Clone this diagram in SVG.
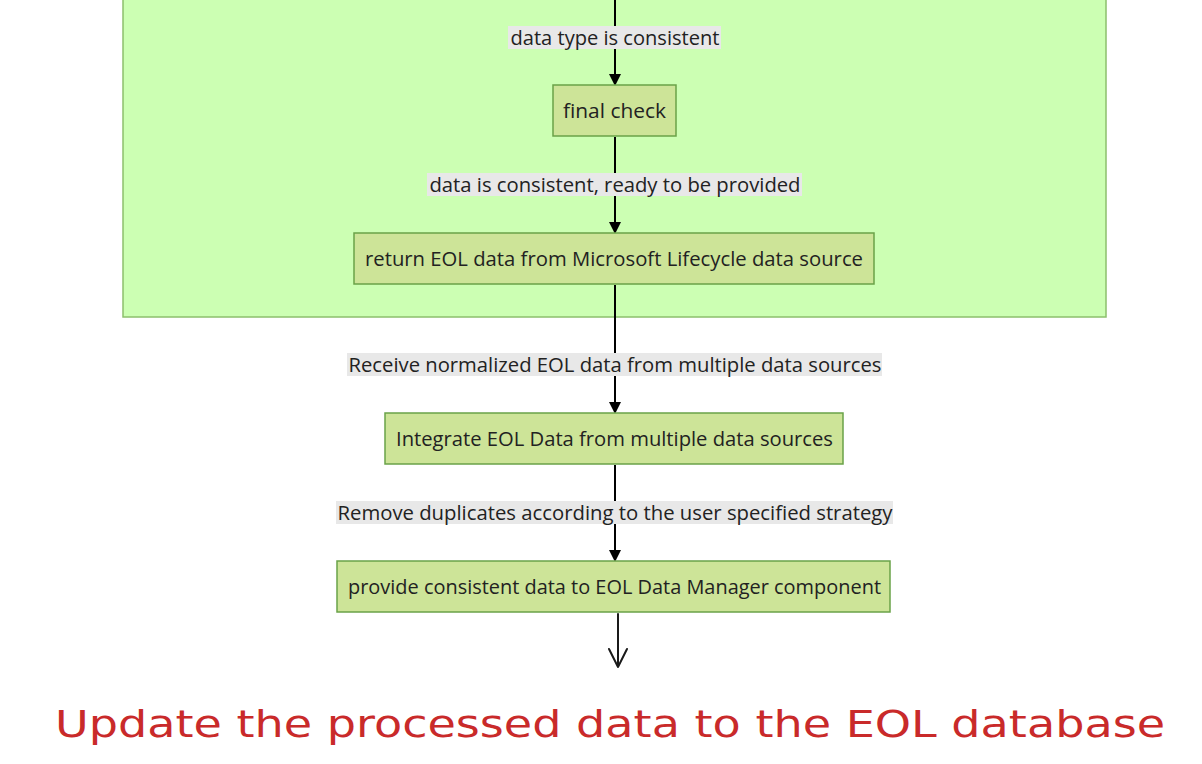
<svg xmlns="http://www.w3.org/2000/svg" width="1202" height="764" viewBox="0 0 1202 764">
<style>
.node rect{fill:#cde498;stroke:#6aa248;stroke-width:1.5}
.nt{font-family:"Open Sans","DejaVu Sans",sans-serif;font-size:20px;fill:#222;text-anchor:middle;dominant-baseline:central;lengthAdjust:spacingAndGlyphs}
.lbg{fill:#e8e8e8}
.edge{stroke:#000;stroke-width:2;fill:none}
</style>
<defs>
<marker id="ah" markerWidth="12" markerHeight="12" refX="10" refY="6" orient="auto" markerUnits="userSpaceOnUse">
<path d="M0,0 L12,6 L0,12 z" fill="#000"/>
</marker>
</defs>
<rect width="1202" height="764" fill="#fff"/>
<g id="cluster">
<rect x="123" y="-10" width="983" height="327" fill="#ccffb3" stroke="#8cc06c" stroke-width="1.5"/>
</g>
<g id="connectors">
<path class="edge" d="M615,0 V84" marker-end="url(#ah)"/>
<path class="edge" d="M615,137 V232" marker-end="url(#ah)"/>
<path class="edge" d="M615,285 V412" marker-end="url(#ah)"/>
<path class="edge" d="M615,465 V560" marker-end="url(#ah)"/>
<path d="M618,614 V667 M609,649 L618,667 L627,649" stroke="#1a1a1a" stroke-width="2" fill="none" stroke-linecap="round" stroke-linejoin="round"/>
<rect class="lbg" x="508" y="26" width="213" height="23"/>
<text class="nt" x="615" y="37" textLength="209" lengthAdjust="spacingAndGlyphs">data type is consistent</text>
<rect class="lbg" x="427" y="173" width="375" height="23"/>
<text class="nt" x="615" y="184" textLength="371" lengthAdjust="spacingAndGlyphs">data is consistent, ready to be provided</text>
<rect class="lbg" x="347" y="353" width="535" height="23"/>
<text class="nt" x="615" y="364" textLength="533" lengthAdjust="spacingAndGlyphs">Receive normalized EOL data from multiple data sources</text>
<rect class="lbg" x="336" y="501" width="557" height="23"/>
<text class="nt" x="615" y="512" textLength="555" lengthAdjust="spacingAndGlyphs">Remove duplicates according to the user specified strategy</text>
</g>
<g id="final-check" class="node">
<rect x="553" y="85" width="123" height="51"/>
<text class="nt" x="614.5" y="110" textLength="103" lengthAdjust="spacingAndGlyphs">final check</text>
</g>
<g id="return-eol" class="node">
<rect x="354" y="233" width="520" height="51"/>
<text class="nt" x="614" y="258" textLength="498" lengthAdjust="spacingAndGlyphs">return EOL data from Microsoft Lifecycle data source</text>
</g>
<g id="integrate" class="node">
<rect x="385" y="413" width="458" height="51"/>
<text class="nt" x="614.5" y="438" textLength="437" lengthAdjust="spacingAndGlyphs">Integrate EOL Data from multiple data sources</text>
</g>
<g id="provide" class="node">
<rect x="337" y="561" width="553" height="51"/>
<text class="nt" x="614.5" y="586" textLength="533" lengthAdjust="spacingAndGlyphs">provide consistent data to EOL Data Manager component</text>
</g>
<g id="note">
<text x="55" y="737" font-family="'DejaVu Sans',sans-serif" font-size="38" fill="#c92a2a" textLength="1110" lengthAdjust="spacingAndGlyphs">Update the processed data to the EOL database</text>
</g>
</svg>
